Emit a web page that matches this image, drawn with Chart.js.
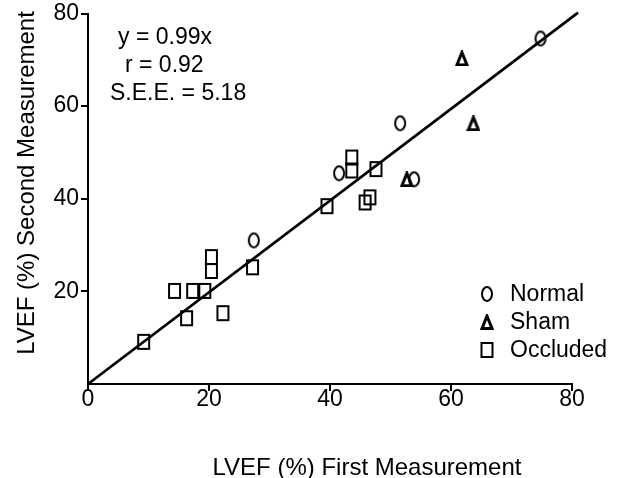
<!DOCTYPE html>
<html>
<head>
<meta charset="utf-8">
<script src="https://cdn.jsdelivr.net/npm/chart.js@4/dist/chart.umd.min.js"></script>
<style>
  html, body { margin: 0; padding: 0; background: #fff; }
  #wrap { width: 624px; height: 478px; }
</style>
</head>
<body>
<div id="wrap"><canvas id="LvefChart" width="624" height="478"></canvas></div>
<script>
const normalX = [74.8, 51.6, 41.5, 53.9, 27.4];
const normalY = [74.6, 56.3, 45.5, 44.2, 31.0];

const shamX = [61.8, 63.7, 52.7];
const shamY = [70.3, 56.3, 44.2];

const occludedX = [9.2, 14.3, 17.3, 19.3, 16.3, 22.3, 20.4, 20.4, 27.2, 39.5, 43.6, 43.6, 47.6, 45.8, 46.6];
const occludedY = [9.1, 20.1, 20.1, 20.1, 14.2, 15.3, 27.4, 24.4, 25.2, 38.4, 48.9, 46.1, 46.4, 39.2, 40.3];

// regression line y = 0.99x, end points
const fitX = [0, 81];
const fitY = [0, 80.2];

const axisTicks = [0, 20, 40, 60, 80];
const statLines = ["y = 0.99x", "r = 0.92", "S.E.E. = 5.18"];
const legendLabels = ["Normal", "Sham", "Occluded"];

function toPoints(xs, ys) {
  return xs.map((x, i) => ({ x: x, y: ys[i] }));
}

// open markers, a bit taller than wide like the scan
function makeMarker(kind) {
  const c = document.createElement("canvas");
  const ctx = c.getContext("2d");
  ctx.strokeStyle = "#000";
  if (kind === "circle") {
    c.width = 14; c.height = 18;
    ctx.lineWidth = 2;
    ctx.beginPath();
    ctx.ellipse(7, 9, 5, 7, 0, 0, Math.PI * 2);
    ctx.stroke();
  } else if (kind === "triangle") {
    c.width = 14; c.height = 16;
    ctx.lineWidth = 3;
    ctx.lineJoin = "miter";
    ctx.beginPath();
    ctx.moveTo(7, 2);
    ctx.lineTo(12, 14.5);
    ctx.lineTo(2, 14.5);
    ctx.closePath();
    ctx.stroke();
  } else {
    c.width = 15; c.height = 18;
    ctx.lineWidth = 2;
    ctx.strokeRect(2, 2, 11, 14);
  }
  return c;
}

const markers = [makeMarker("circle"), makeMarker("triangle"), makeMarker("square")];

const textPlugin = {
  id: "textPlugin",
  afterDraw(chart) {
    const ctx = chart.ctx;
    ctx.save();
    ctx.fillStyle = "#000";
    ctx.textBaseline = "middle";

    // axis titles
    ctx.font = "24px 'Liberation Sans', Arial, sans-serif";
    ctx.textAlign = "center";
    ctx.fillText("LVEF (%) First Measurement", 367, 468);
    ctx.save();
    ctx.translate(27, 183);
    ctx.rotate(-Math.PI / 2);
    ctx.fillText("LVEF (%) Second Measurement", 0, 0);
    ctx.restore();

    // stats block
    ctx.font = "23px 'Liberation Sans', Arial, sans-serif";
    ctx.textAlign = "left";
    const statX = [118, 125, 110];
    const statY = [38, 66, 94];
    statLines.forEach((t, i) => ctx.fillText(t, statX[i], statY[i]));

    // legend
    const legY = [294, 322, 350];
    legendLabels.forEach((t, i) => {
      const m = markers[i];
      ctx.drawImage(m, 487 - m.width / 2, legY[i] - m.height / 2);
      ctx.fillText(t, 510, legY[i] + 1);
    });
    ctx.restore();
  }
};

const tickFont = { family: "'Liberation Sans', Arial, sans-serif", size: 23, lineHeight: 1 };

new Chart(document.getElementById("LvefChart"), {
  type: "scatter",
  data: {
    datasets: [
      {
        label: "Normal",
        data: toPoints(normalX, normalY),
        pointStyle: markers[0],
        pointRadius: 7
      },
      {
        label: "Sham",
        data: toPoints(shamX, shamY),
        pointStyle: markers[1],
        pointRadius: 7
      },
      {
        label: "Occluded",
        data: toPoints(occludedX, occludedY),
        pointStyle: markers[2],
        pointRadius: 7
      },
      {
        type: "line",
        label: "fit",
        data: toPoints(fitX, fitY),
        borderColor: "#000",
        borderWidth: 2.8,
        pointRadius: 0,
        fill: false,
        clip: false,
        order: 5
      }
    ]
  },
  options: {
    responsive: false,
    animation: false,
    layout: { padding: { left: 0, right: 52, top: 13, bottom: 0 } },
    plugins: {
      legend: { display: false },
      tooltip: { enabled: false }
    },
    scales: {
      x: {
        type: "linear",
        min: 0,
        max: 80,
        afterFit: (scale) => { scale.height = 94; },
        afterBuildTicks: (scale) => { scale.ticks = axisTicks.map(v => ({ value: v })); },
        border: { display: true, color: "#000", width: 2 },
        grid: { drawOnChartArea: false, drawTicks: true, tickLength: 7, color: "#000", lineWidth: 2 },
        ticks: { color: "#000", font: tickFont, padding: -3, maxRotation: 0 }
      },
      y: {
        type: "linear",
        min: 0,
        max: 80,
        afterFit: (scale) => { scale.width = 88; },
        afterBuildTicks: (scale) => { scale.ticks = axisTicks.map(v => ({ value: v })); },
        border: { display: true, color: "#000", width: 2 },
        grid: {
          drawOnChartArea: false,
          drawTicks: true,
          tickLength: 7,
          lineWidth: 2,
          color: (ctx) => (ctx.tick && ctx.tick.value === 0 ? "rgba(0,0,0,0)" : "#000")
        },
        ticks: {
          color: "#000",
          font: tickFont,
          padding: 2,
          callback: (v) => (v === 0 ? "" : v)
        }
      }
    }
  },
  plugins: [textPlugin]
});
</script>
</body>
</html>
